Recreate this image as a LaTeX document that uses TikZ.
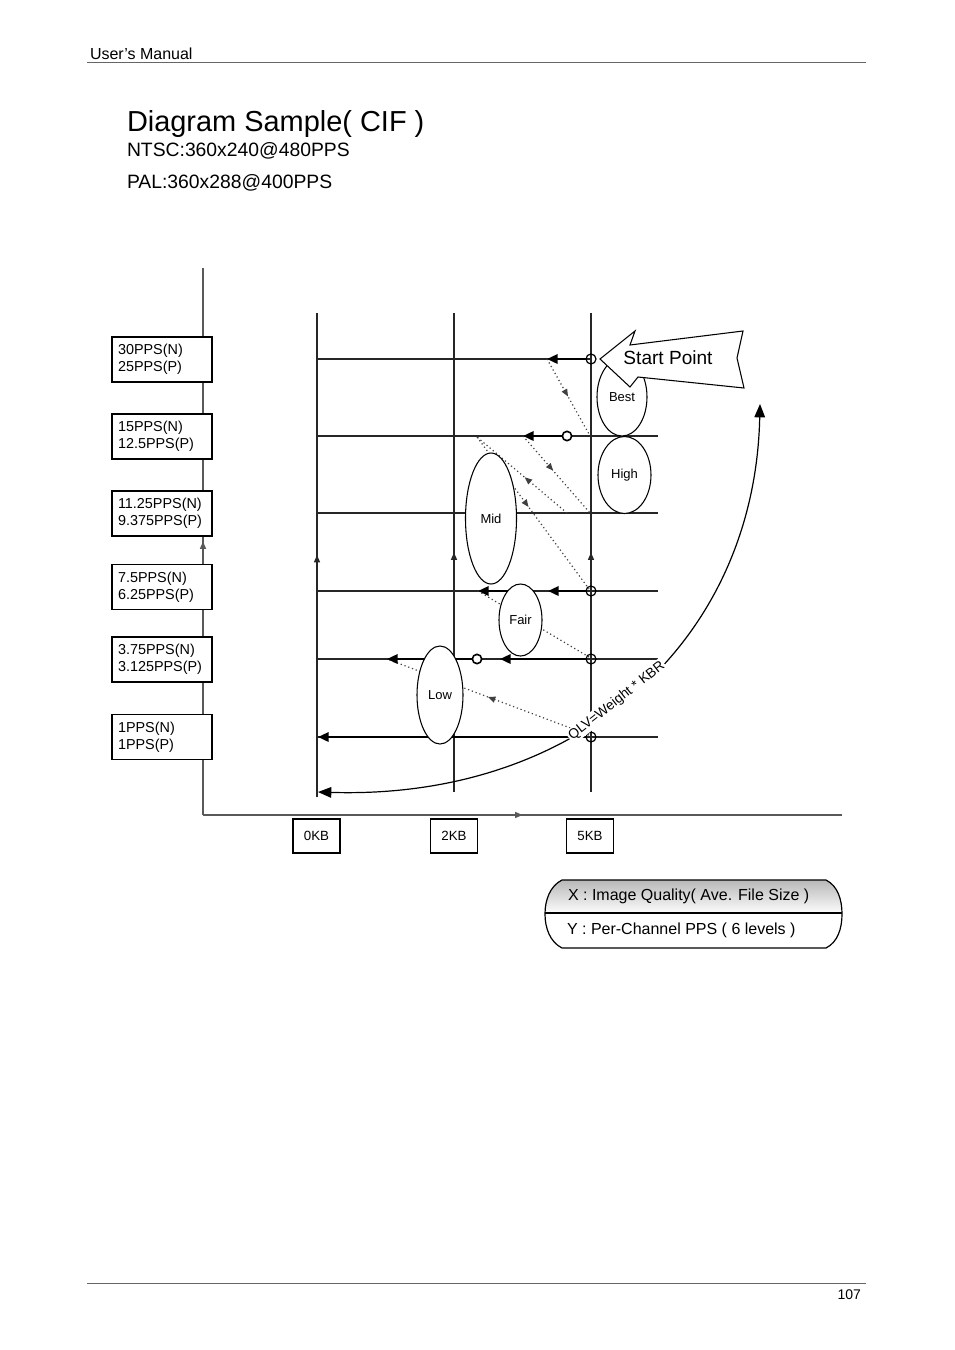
\documentclass[tikz,border=0pt]{standalone}
\usepackage{fontspec}
\setmainfont{Liberation Sans}
\usetikzlibrary{arrows.meta,shapes.geometric,decorations.markings}
\begin{document}
\begin{tikzpicture}[x=0.75pt,y=-0.75pt,
  every node/.style={inner sep=0pt, outer sep=0pt},
  gridline/.style={line width=0.9pt, draw=black!85},
  axisline/.style={line width=0.9pt, draw=black!65},
  midarrow/.style={postaction={decorate}, decoration={markings, mark=at position #1 with {\arrow{Triangle[length=5.5pt,width=4.5pt]}}}},
  dotline/.style={line width=0.9pt, draw=black!75, dash pattern=on 0.9pt off 2.1pt},
  thickarr/.style={line width=1.8pt, -{Triangle[length=8pt,width=7pt]}},
  ellip/.style={ellipse, draw, line width=0.8pt, fill=white, font=\fontsize{9.75}{11}\selectfont},
  crossc/.style={circle, draw, line width=0.9pt, minimum size=7.5pt},
  openc/.style={circle, draw, line width=1.2pt, fill=white, minimum size=7pt},
  lbox/.style={draw, line width=0.8pt, fill=white, minimum width=75pt, minimum height=33.75pt, align=left, text width=66pt, inner xsep=4.5pt, font=\fontsize{10.8}{12.8}\selectfont},
  kbbox/.style={draw, line width=0.8pt, fill=white, minimum width=35.25pt, minimum height=25.5pt, font=\fontsize{10}{12}\selectfont},
  arcst/.style={line width=0.9pt, {Triangle[length=10pt,width=8pt]}-{Triangle[length=10pt,width=8pt]}},
  rule/.style={line width=0.6pt, draw=black!60}
]
\fill[white] (0,0) rectangle (954,1350);
\useasboundingbox (0,0) rectangle (954,1350);

% header / footer
\draw[rule] (87,62) -- (866,62);
\draw[rule] (87,1283) -- (866,1283);
\node[anchor=base west, font=\fontsize{12}{14}\selectfont] (hdr) at (90,59) {User’s Manual};
\node[anchor=base east, font=\fontsize{10.5}{12}\selectfont] (pg) at (861,1299) {107};

% title
\node[anchor=base west, font=\fontsize{21.7}{26}\selectfont] (title) at (127,131) {Diagram Sample( CIF )};
\node[anchor=base west, font=\fontsize{14.5}{17}\selectfont] (ntsc) at (127,156) {NTSC:360x240@480PPS};
\node[anchor=base west, font=\fontsize{14.5}{17}\selectfont] (pal) at (127,188) {PAL:360x288@400PPS};

% coordinates
\coordinate (ax0) at (203,815);
\coordinate (axT) at (203,268);
\coordinate (axR) at (842,815);
\coordinate (v0t) at (317,313); \coordinate (v0b) at (317,797);
\coordinate (v2t) at (454,313); \coordinate (v2b) at (454,792);
\coordinate (v5t) at (591,313); \coordinate (v5b) at (591,792);
\coordinate (r1l) at (317,359); \coordinate (r1r) at (591,359);
\coordinate (r2l) at (317,436); \coordinate (r2r) at (658,436);
\coordinate (r3l) at (317,513); \coordinate (r3r) at (658,513);
\coordinate (r4l) at (317,591); \coordinate (r4r) at (658,591);
\coordinate (r5l) at (317,659); \coordinate (r5r) at (658,659);
\coordinate (r6l) at (317,737); \coordinate (r6r) at (658,737);
\coordinate (t1) at (547,359);
\coordinate (t2) at (523,436);
\coordinate (t3) at (548,591);
\coordinate (t4s) at (525,591);
\coordinate (t4) at (478,591);
\coordinate (t5) at (500,659);
\coordinate (t6) at (387,659);
\coordinate (t7) at (318,737);
\coordinate (d1b) at (589,434);
\coordinate (d2b) at (590,513);
\coordinate (d3a) at (567,513);
\coordinate (d3b) at (477,437);
\coordinate (d4b) at (589,589);
\coordinate (d5a) at (589,657);
\coordinate (d6a) at (589,735);

% axes
\draw[axisline, midarrow=0.5] (ax0) -- (axT);
\draw[axisline, midarrow=0.5] (ax0) -- (axR);

% vertical grid lines
\draw[gridline, midarrow=0.5] (v0b) -- (v0t);
\draw[gridline, midarrow=0.5] (v2b) -- (v2t);
\draw[gridline, midarrow=0.5] (v5b) -- (v5t);

% horizontal grid lines
\draw[gridline] (r1l) -- (r1r);
\draw[gridline] (r2l) -- (r2r);
\draw[gridline] (r3l) -- (r3r);
\draw[gridline] (r4l) -- (r4r);
\draw[gridline] (r5l) -- (r5r);
\draw[gridline] (r6l) -- (r6r);

% circles
\node[crossc] (c1) at (591,359) {};
\node[crossc] (c4) at (591,591) {};
\node[crossc] (c5) at (591,659) {};
\node[crossc] (c6) at (591,737) {};

% dotted paths
\draw[dotline, midarrow=0.5] (t1) -- (d1b);
\draw[dotline, midarrow=0.45] (t2) -- (d2b);
\draw[dotline, midarrow=0.47] (d3a) -- (d3b);
\draw[dotline, midarrow=0.46] (d3b) -- (d4b);
\draw[dotline] (d5a) -- (t4);
\draw[dotline, midarrow=0.5] (d6a) -- (t6);

% open circles
\node[openc] (o2) at (567,436) {};
\node[openc] (o5) at (477,659) {};

% thick arrows
\draw[thickarr] (c1) -- (t1);
\draw[thickarr] (o2) -- (t2);
\draw[thickarr] (c4) -- (t3);
\draw[thickarr] (t4s) -- (t4);
\draw[thickarr] (c5) -- (t5);
\draw[thickarr] (o5) -- (t6);
\draw[thickarr] (c6) -- (t7);

% ellipses
\node[ellip, minimum width=37.5pt, minimum height=58.5pt] (best) at (622,397) {Best};
\node[ellip, minimum width=39.75pt, minimum height=57.75pt] (high) at (624.5,475) {High};
\node[ellip, minimum width=38.25pt, minimum height=98.25pt] (mid) at (491,518.5) {Mid};
\node[ellip, minimum width=32.25pt, minimum height=54pt] (fair) at (520.5,620) {Fair};
\node[ellip, minimum width=34.5pt, minimum height=73.5pt] (low) at (440,695) {Low};

% start point arrow
\draw[line width=0.8pt, fill=white] (600,359) -- (635,331) -- (630,345) -- (743,331) -- (737,358) -- (744,388) -- (638,377) -- (630,387) -- cycle;
\node[font=\fontsize{14.3}{17}\selectfont] (sp) at (668,358) {Start Point};

% QLV arc
\coordinate (arcT) at (760,404);
\coordinate (arcB) at (318,792);
\draw[arcst] (arcT) .. controls (755,640) and (580,800) .. (arcB)
  node[pos=0.535, sloped, above=-3.5pt, fill=white, inner sep=1pt, font=\fontsize{10.3}{12}\selectfont] (qlv) {QLV=Weight * KBR};

% left boxes
\node[lbox] (b1) at (162,359.5) {30PPS(N)\\25PPS(P)};
\node[lbox] (b2) at (162,436.5) {15PPS(N)\\12.5PPS(P)};
\node[lbox] (b3) at (162,513.5) {11.25PPS(N)\\9.375PPS(P)};
\node[lbox] (b4) at (162,587) {7.5PPS(N)\\6.25PPS(P)};
\node[lbox] (b5) at (162,659.5) {3.75PPS(N)\\3.125PPS(P)};
\node[lbox] (b6) at (162,737) {1PPS(N)\\1PPS(P)};

% KB boxes
\node[kbbox] (k0) at (316.5,836) {0KB};
\node[kbbox] (k2) at (454,836) {2KB};
\node[kbbox] (k5) at (590,836) {5KB};

% legend
\begin{scope}
\clip (562,880) -- (826,880) .. controls (838,886) and (842,900) .. (842,914) -- (545,914) .. controls (545,900) and (550,886) .. (562,880) -- cycle;
\shade[top color=black!28, bottom color=white] (545,880) rectangle (842,914);
\end{scope}
\draw[line width=0.9pt] (562,880) -- (826,880) .. controls (838,886) and (842,900) .. (842,914) .. controls (842,928) and (838,942) .. (826,948) -- (562,948) .. controls (550,942) and (545,928) .. (545,914) .. controls (545,900) and (550,886) .. (562,880) -- cycle;
\draw[line width=0.9pt] (545,913) -- (842,913);
\node[anchor=west, font=\fontsize{12}{14}\selectfont] (lx) at (568,896) {X : Image Quality( Ave. File Size )};
\node[anchor=west, font=\fontsize{12}{14}\selectfont] (ly) at (567,930) {Y : Per-Channel PPS ( 6 levels )};
\end{tikzpicture}
\end{document}
